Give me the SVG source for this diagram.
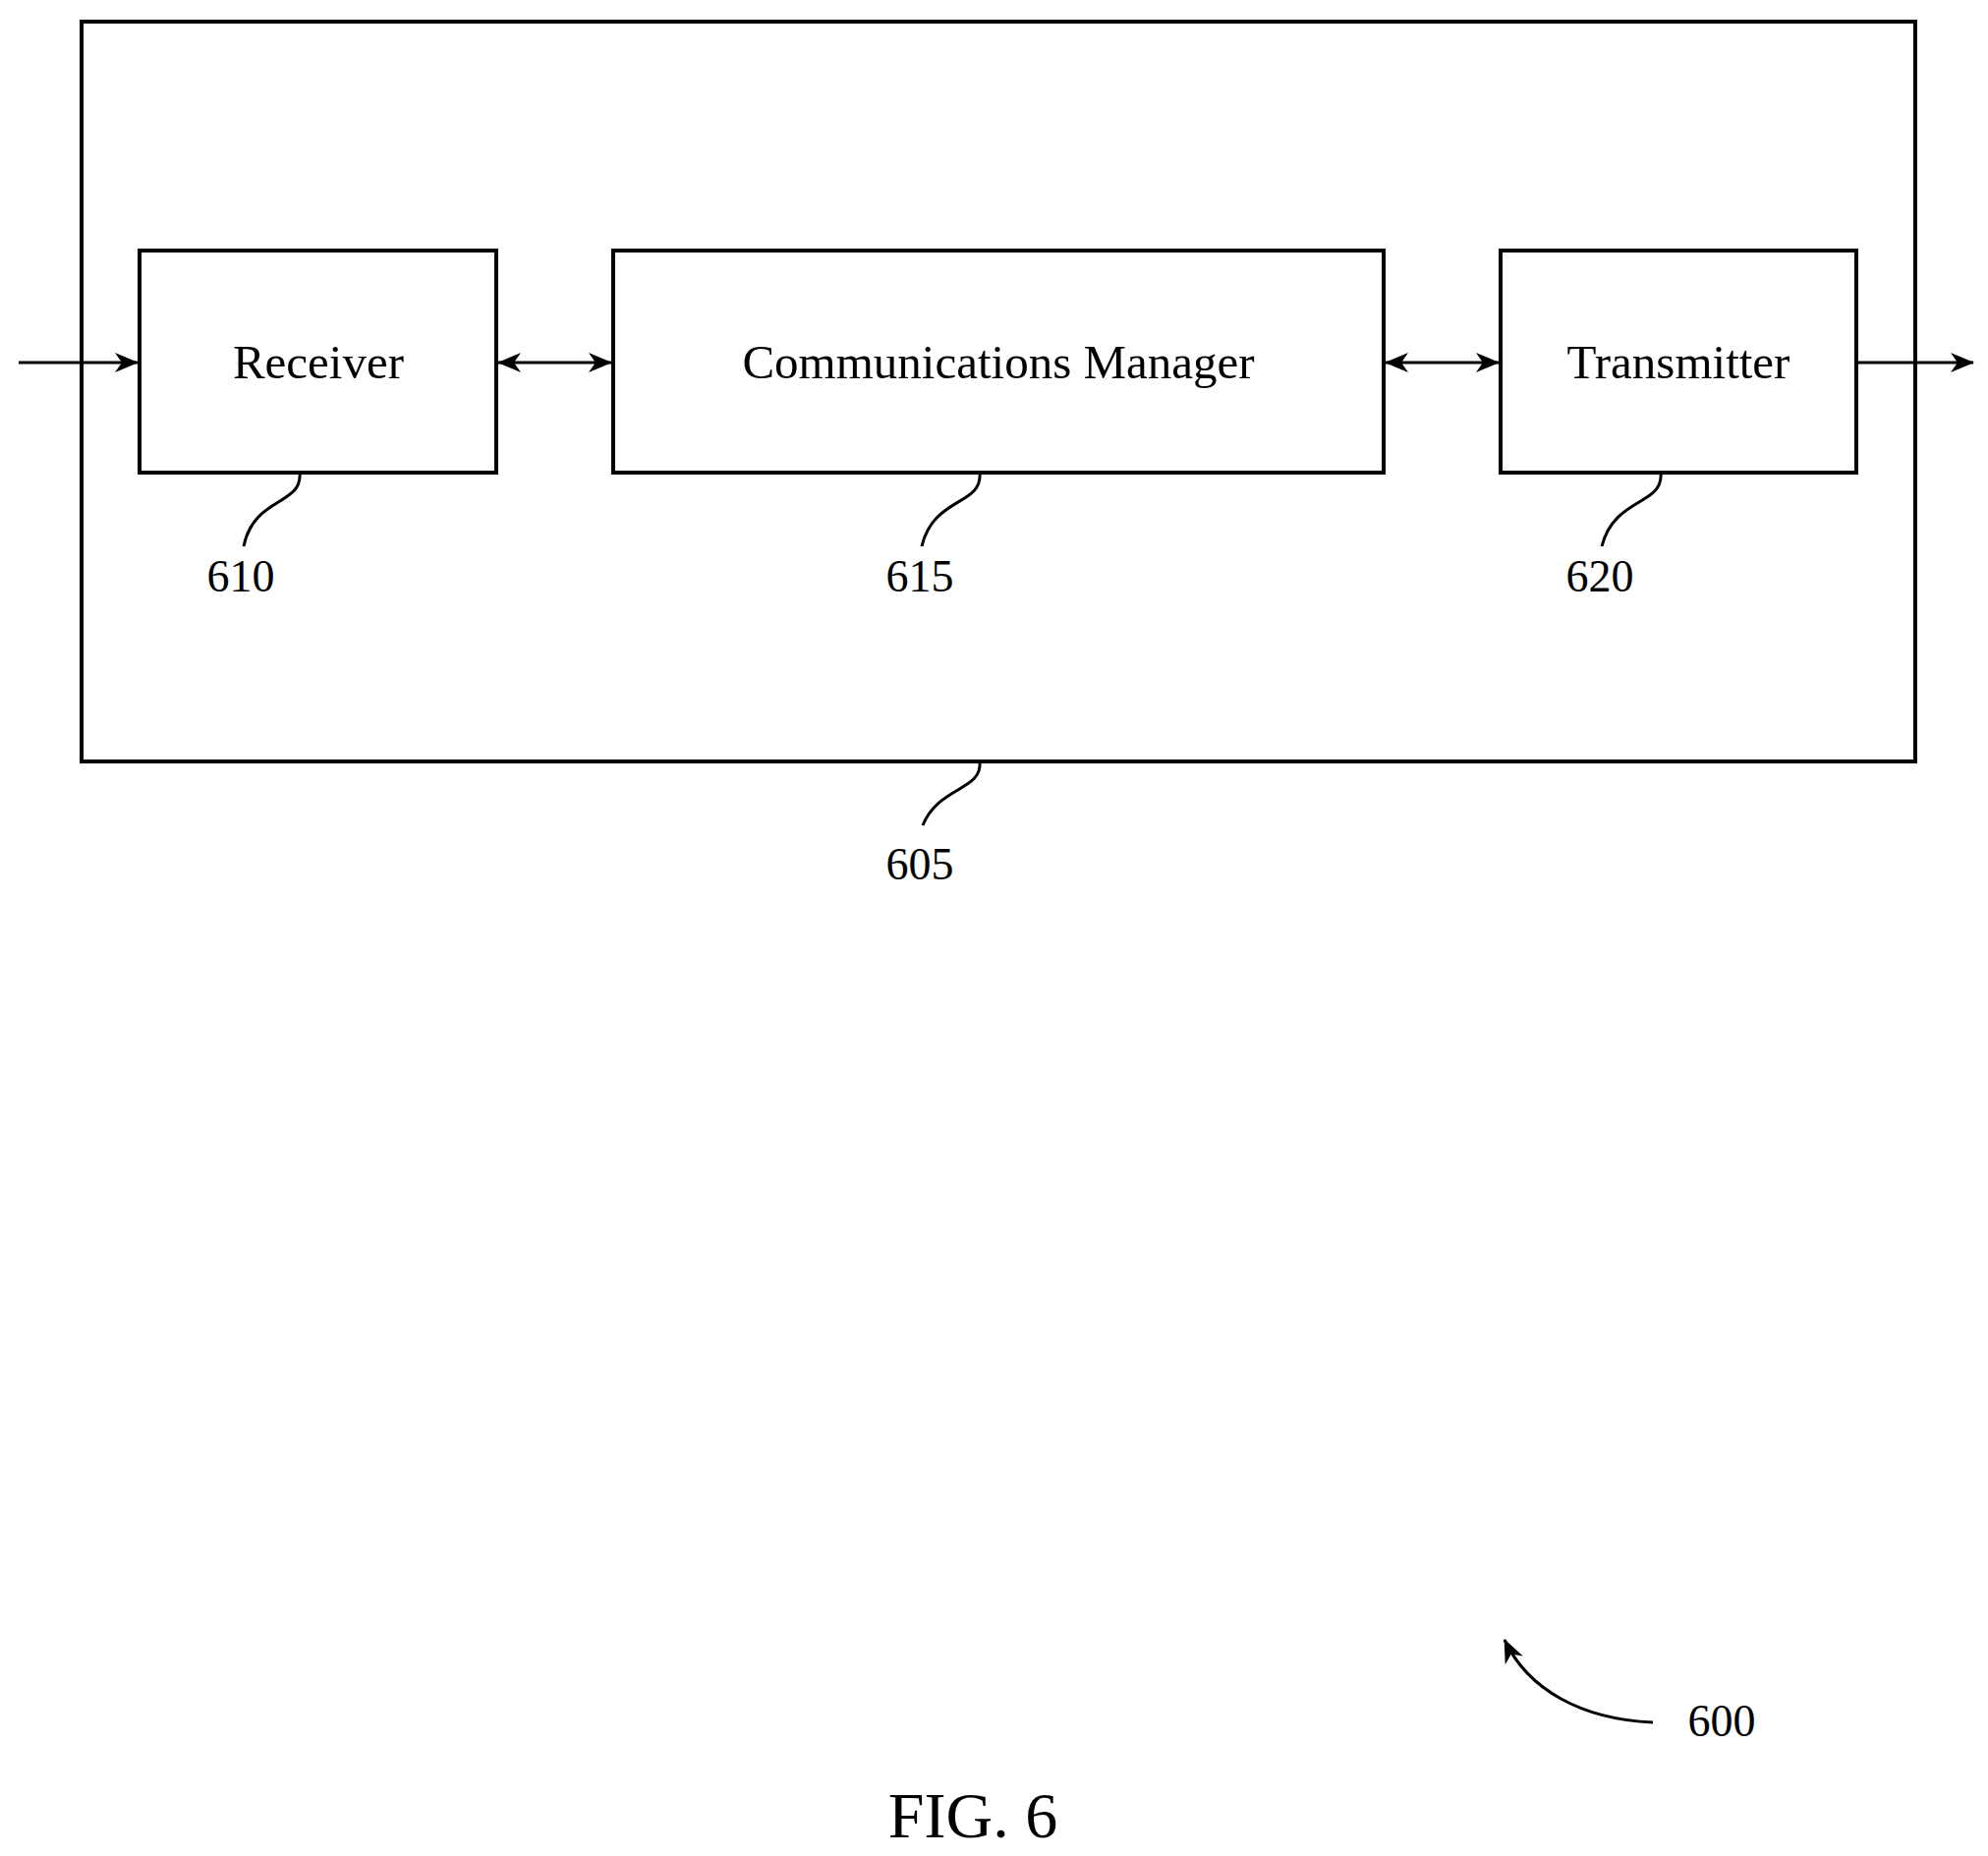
<svg xmlns="http://www.w3.org/2000/svg" width="2023" height="1889" viewBox="0 0 2023 1889">
<style>
.b{fill:none;stroke:#000;stroke-width:4}
.l{fill:none;stroke:#000;stroke-width:3}
text{font-family:"Liberation Serif",serif;fill:#000;text-anchor:middle}
.t{font-size:49px}
.n{font-size:46px}
</style>
<defs>
<marker id="a" viewBox="0 0 24 20" refX="23" refY="10" markerWidth="24" markerHeight="20" markerUnits="userSpaceOnUse" orient="auto-start-reverse">
<path d="M0,0 L24,10 L0,20 L7,10 Z" fill="#000"/>
</marker>
</defs>
<rect width="2023" height="1889" fill="#fff"/>
<g id="n605"><rect class="b" x="83" y="22" width="1866" height="753"/>
<path class="l" d="M997,775 C1000,805 955,800 939,840"/><text class="n" x="936" y="895">605</text></g>
<g id="n610"><rect class="b" x="142" y="255" width="363" height="226"/><text class="t" x="324" y="385">Receiver</text>
<path class="l" d="M305,481 C308,515 258,505 248,556"/><text class="n" x="245" y="602">610</text></g>
<g id="n615"><rect class="b" x="624" y="255" width="784" height="226"/><text class="t" x="1016" y="385">Communications Manager</text>
<path class="l" d="M997,481 C1000,515 950,505 938,556"/><text class="n" x="936" y="602">615</text></g>
<g id="n620"><rect class="b" x="1527" y="255" width="362" height="226"/><text class="t" x="1708" y="385">Transmitter</text>
<path class="l" d="M1690,481 C1693,515 1643,505 1630,556"/><text class="n" x="1628" y="602">620</text></g>
<g id="connectors">
<line class="l" x1="19" y1="369" x2="140" y2="369" marker-end="url(#a)"/>
<line class="l" x1="507" y1="369" x2="622" y2="369" marker-start="url(#a)" marker-end="url(#a)"/>
<line class="l" x1="1410" y1="369" x2="1525" y2="369" marker-start="url(#a)" marker-end="url(#a)"/>
<line class="l" x1="1889" y1="369" x2="2008" y2="369" marker-end="url(#a)"/>
<path class="l" d="M1682,1753 C1610,1750 1555,1720 1531,1669" marker-end="url(#a)"/>
</g>
<text class="n" x="1752" y="1767">600</text>
<text x="990" y="1870" style="font-size:66px">FIG. 6</text>
</svg>
